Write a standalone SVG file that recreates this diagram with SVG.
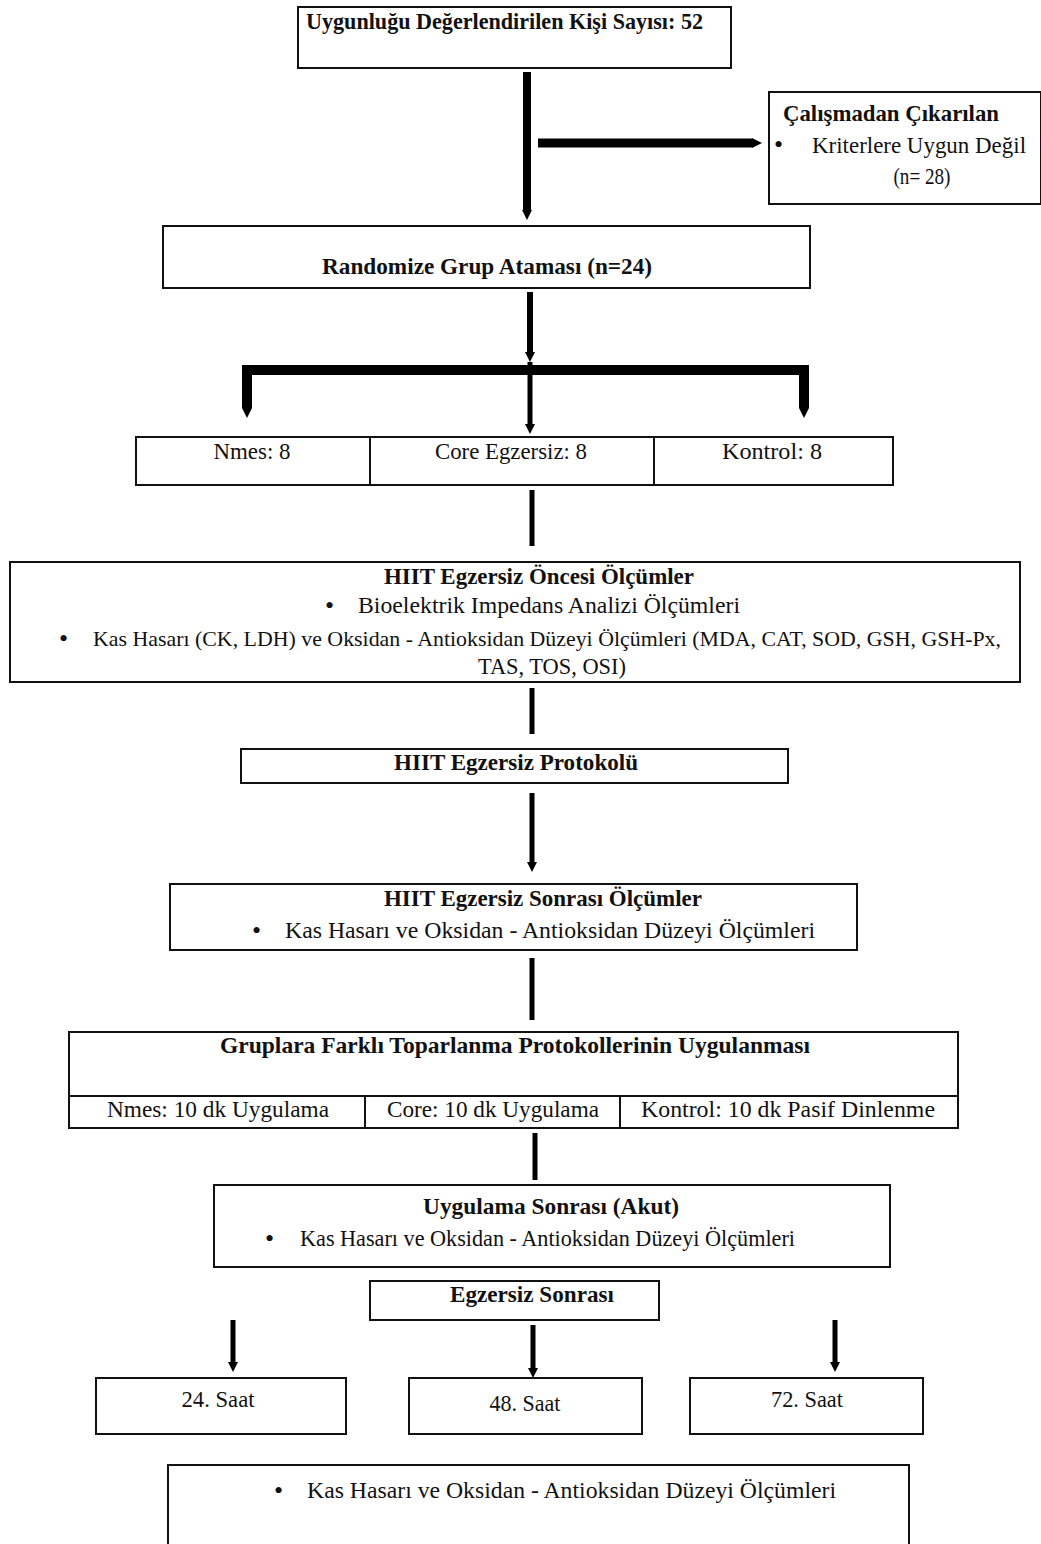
<svg xmlns="http://www.w3.org/2000/svg" width="1041" height="1544" viewBox="0 0 1041 1544">
<defs>
<style>
.box{fill:#fff;stroke:#111;stroke-width:2}
.div{stroke:#111;stroke-width:2}
text{font-family:"Liberation Serif","Times New Roman",serif;font-size:23px;fill:#111}
.b{font-weight:bold}
.c{text-anchor:middle}
.bu{font-size:26px}
.sm{font-size:21px}
.ar{stroke:#000;fill:none}
</style>
<marker id="ah" viewBox="0 0 10 10" refX="0" refY="5" markerUnits="userSpaceOnUse" markerWidth="10" markerHeight="10" orient="auto">
<path d="M0,0 L10,5 L0,10 z" fill="#000"/>
</marker>
</defs>
<rect width="1041" height="1544" fill="#fff"/>

<g id="connectors">
<line class="ar" x1="527" y1="72" x2="527" y2="210" stroke-width="8" marker-end="url(#ah)"/>
<line class="ar" x1="538" y1="143" x2="752" y2="143" stroke-width="9" marker-end="url(#ah)"/>
<line class="ar" x1="530" y1="292" x2="530" y2="352" stroke-width="6" marker-end="url(#ah)"/>
<path class="ar" d="M247,408 L247,370 L804,370 L804,408" stroke-width="10"/>
<line x1="247" y1="407" x2="247" y2="408" stroke="#000" stroke-width="9" marker-end="url(#ah)"/>
<line x1="804" y1="407" x2="804" y2="408" stroke="#000" stroke-width="9" marker-end="url(#ah)"/>
<line class="ar" x1="530" y1="362" x2="530" y2="424" stroke-width="5" marker-end="url(#ah)"/>
<line class="ar" x1="532" y1="490" x2="532" y2="546" stroke-width="5"/>
<line class="ar" x1="532" y1="688" x2="532" y2="734" stroke-width="5"/>
<line class="ar" x1="532" y1="793" x2="532" y2="862" stroke-width="5" marker-end="url(#ah)"/>
<line class="ar" x1="532" y1="958" x2="532" y2="1020" stroke-width="5"/>
<line class="ar" x1="535" y1="1133" x2="535" y2="1180" stroke-width="5"/>
<line class="ar" x1="233" y1="1320" x2="233" y2="1362" stroke-width="5" marker-end="url(#ah)"/>
<line class="ar" x1="533" y1="1325" x2="533" y2="1368" stroke-width="5" marker-end="url(#ah)"/>
<line class="ar" x1="835" y1="1320" x2="835" y2="1362" stroke-width="5" marker-end="url(#ah)"/>
</g>

<g id="n-assessed">
<rect class="box" x="298" y="7" width="433" height="61"/>
<text class="b" x="306" y="29" textLength="397" lengthAdjust="spacingAndGlyphs">Uygunluğu Değerlendirilen Kişi Sayısı: 52</text>
</g>

<g id="n-excluded">
<rect class="box" x="769" y="92" width="272" height="112"/>
<text class="b" x="783" y="121" textLength="216" lengthAdjust="spacingAndGlyphs">Çalışmadan Çıkarılan</text>
<text class="bu" x="774" y="153">•</text>
<text x="812" y="153" textLength="214" lengthAdjust="spacingAndGlyphs">Kriterlere Uygun Değil</text>
<text class="c" x="922" y="184" textLength="57" lengthAdjust="spacingAndGlyphs">(n= 28)</text>
</g>

<g id="n-random">
<rect class="box" x="163" y="226" width="647" height="62"/>
<text class="b c" x="487" y="274" textLength="330" lengthAdjust="spacingAndGlyphs">Randomize Grup Ataması (n=24)</text>
</g>

<g id="n-groups">
<rect class="box" x="136" y="437" width="757" height="48"/>
<line class="div" x1="370" y1="437" x2="370" y2="485"/>
<line class="div" x1="654" y1="437" x2="654" y2="485"/>
<text class="c" x="252" y="459" textLength="77" lengthAdjust="spacingAndGlyphs">Nmes: 8</text>
<text class="c" x="511" y="459" textLength="152" lengthAdjust="spacingAndGlyphs">Core Egzersiz: 8</text>
<text class="c" x="772" y="459" textLength="100" lengthAdjust="spacingAndGlyphs">Kontrol: 8</text>
</g>

<g id="n-pre">
<rect class="box" x="10" y="562" width="1010" height="120"/>
<text class="b c" x="539" y="584" textLength="310" lengthAdjust="spacingAndGlyphs">HIIT Egzersiz Öncesi Ölçümler</text>
<text class="bu" x="325" y="614">•</text>
<text x="358" y="613" textLength="382" lengthAdjust="spacingAndGlyphs">Bioelektrik Impedans Analizi Ölçümleri</text>
<text class="bu" x="59" y="647">•</text>
<text class="sm" x="93" y="646" textLength="908" lengthAdjust="spacingAndGlyphs">Kas Hasarı (CK, LDH) ve Oksidan - Antioksidan Düzeyi Ölçümleri (MDA, CAT, SOD, GSH, GSH-Px,</text>
<text class="c" x="552" y="674" textLength="148" lengthAdjust="spacingAndGlyphs">TAS, TOS, OSI)</text>
</g>

<g id="n-protocol">
<rect class="box" x="241" y="749" width="547" height="34"/>
<text class="b c" x="516" y="770" textLength="244" lengthAdjust="spacingAndGlyphs">HIIT Egzersiz Protokolü</text>
</g>

<g id="n-post">
<rect class="box" x="170" y="884" width="687" height="66"/>
<text class="b c" x="543" y="906" textLength="318" lengthAdjust="spacingAndGlyphs">HIIT Egzersiz Sonrası Ölçümler</text>
<text class="bu" x="252" y="939">•</text>
<text x="285" y="938" textLength="530" lengthAdjust="spacingAndGlyphs">Kas Hasarı ve Oksidan - Antioksidan Düzeyi Ölçümleri</text>
</g>

<g id="n-recovery">
<rect class="box" x="69" y="1032" width="889" height="96"/>
<line class="div" x1="69" y1="1096" x2="958" y2="1096"/>
<line class="div" x1="365" y1="1096" x2="365" y2="1128"/>
<line class="div" x1="620" y1="1096" x2="620" y2="1128"/>
<text class="b c" x="515" y="1053" textLength="590" lengthAdjust="spacingAndGlyphs">Gruplara Farklı Toparlanma Protokollerinin Uygulanması</text>
<text class="c" x="218" y="1117" textLength="222" lengthAdjust="spacingAndGlyphs">Nmes: 10 dk Uygulama</text>
<text class="c" x="493" y="1117" textLength="212" lengthAdjust="spacingAndGlyphs">Core: 10 dk Uygulama</text>
<text class="c" x="788" y="1117" textLength="294" lengthAdjust="spacingAndGlyphs">Kontrol: 10 dk Pasif Dinlenme</text>
</g>

<g id="n-acute">
<rect class="box" x="214" y="1185" width="676" height="82"/>
<text class="b c" x="551" y="1214" textLength="256" lengthAdjust="spacingAndGlyphs">Uygulama Sonrası (Akut)</text>
<text class="bu" x="265" y="1247">•</text>
<text x="300" y="1246" textLength="495" lengthAdjust="spacingAndGlyphs">Kas Hasarı ve Oksidan - Antioksidan Düzeyi Ölçümleri</text>
</g>

<g id="n-after">
<rect class="box" x="370" y="1281" width="289" height="39"/>
<text class="b c" x="532" y="1302" textLength="164" lengthAdjust="spacingAndGlyphs">Egzersiz Sonrası</text>
</g>

<g id="n-24">
<rect class="box" x="96" y="1378" width="250" height="56"/>
<text class="c" x="218" y="1407" textLength="73" lengthAdjust="spacingAndGlyphs">24. Saat</text>
</g>
<g id="n-48">
<rect class="box" x="409" y="1378" width="233" height="56"/>
<text class="c" x="525" y="1411" textLength="71" lengthAdjust="spacingAndGlyphs">48. Saat</text>
</g>
<g id="n-72">
<rect class="box" x="690" y="1378" width="233" height="56"/>
<text class="c" x="807" y="1407" textLength="72" lengthAdjust="spacingAndGlyphs">72. Saat</text>
</g>

<g id="n-final">
<rect class="box" x="168" y="1465" width="741" height="80"/>
<text class="bu" x="274" y="1499">•</text>
<text x="307" y="1498" textLength="529" lengthAdjust="spacingAndGlyphs">Kas Hasarı ve Oksidan - Antioksidan Düzeyi Ölçümleri</text>
</g>
</svg>
